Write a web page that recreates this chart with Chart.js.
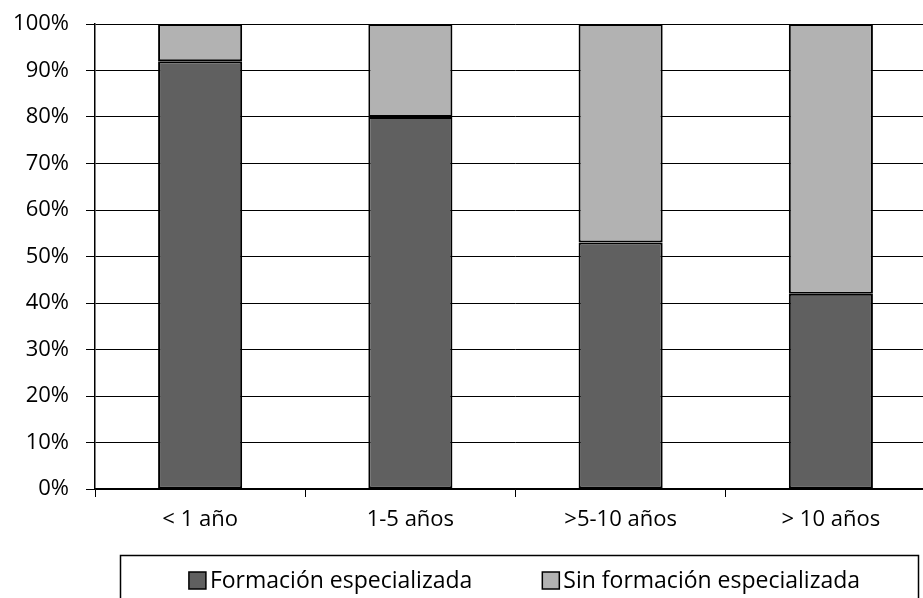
<!DOCTYPE html>
<html lang="es">
<head>
  <meta charset="UTF-8" />
  <title>Formación especializada por antigüedad</title>
  <style>
    html, body {
      margin: 0;
      padding: 0;
      background: #fff;
      overflow: hidden;
    }
    .wrap {
      width: 936px;
      height: 598px;
    }
  </style>
</head>
<body>
  <div class="wrap">
    <canvas id="grafica" width="936" height="598"></canvas>
  </div>

  <script src="https://cdn.jsdelivr.net/npm/chart.js"></script>
  <script>
    const categorias = ['< 1 año', '1-5 años', '>5-10 años', '> 10 años'];
    const conFormacion = [92, 80, 53, 42];
    const sinFormacion = [8, 20, 47, 58];
    const series = ['Formación especializada', 'Sin formación especializada'];

    const FUENTE = '"Open Sans", Lato, sans-serif';
    const OSCURO = '#606060';
    const CLARO = '#b2b2b2';

    // leyenda con marco, como en el original
    const leyendaMarco = {
      id: 'leyendaMarco',
      afterDraw(chart) {
        const ctx = chart.ctx;
        ctx.save();
        ctx.strokeStyle = '#000';
        ctx.lineWidth = 1.5;
        ctx.strokeRect(120.5, 555.5, 798, 60);

        ctx.font = '23px ' + FUENTE;
        ctx.textBaseline = 'alphabetic';
        const caja = 17, sep = 4, hueco = 70;
        const anchos = series.map(s => ctx.measureText(s).width);
        const total = anchos.reduce((a, w) => a + caja + sep + w, 0) + hueco;
        let x = 524.5 - total / 2;
        series.forEach((s, i) => {
          const ds = chart.data.datasets[i];
          ctx.fillStyle = ds.backgroundColor;
          ctx.fillRect(x, 572, caja, caja);
          ctx.lineWidth = 1.5;
          ctx.strokeStyle = '#000';
          ctx.strokeRect(x, 572, caja, caja);
          ctx.fillStyle = '#000';
          ctx.fillText(s, x + caja + sep, 588);
          x += caja + sep + anchos[i] + hueco;
        });
        ctx.restore();
      }
    };

    new Chart(document.getElementById('grafica'), {
      type: 'bar',
      data: {
        labels: categorias,
        datasets: [
          {
            label: series[0],
            data: conFormacion,
            backgroundColor: OSCURO,
            borderColor: '#000',
            borderWidth: 2,
            borderSkipped: false,
            barPercentage: 0.4,
            categoryPercentage: 1
          },
          {
            label: series[1],
            data: sinFormacion,
            backgroundColor: CLARO,
            borderColor: '#000',
            borderWidth: 2,
            borderSkipped: false,
            barPercentage: 0.4,
            categoryPercentage: 1
          }
        ]
      },
      options: {
        responsive: false,
        animation: false,
        layout: { padding: { top: 24, right: 0, bottom: 44, left: 0 } },
        scales: {
          x: {
            stacked: true,
            afterFit: s => { s.height = 65; },
            grid: {
              offset: true,
              drawOnChartArea: false,
              color: '#000',
              tickLength: 8
            },
            border: { color: '#000', width: 1.5 },
            ticks: {
              color: '#000',
              padding: 10,
              font: { family: FUENTE, size: 22 }
            }
          },
          y: {
            stacked: true,
            min: 0,
            max: 100,
            afterFit: s => { s.width = 95; s.paddingTop = 0; s.paddingBottom = 0; },
            grid: { color: '#000', lineWidth: 1, tickLength: 9 },
            border: { color: '#000', width: 1.5 },
            ticks: {
              stepSize: 10,
              color: '#000',
              padding: 17,
              font: { family: FUENTE, size: 22 },
              callback: v => v + '%'
            }
          }
        },
        plugins: {
          legend: { display: false },
          tooltip: { enabled: false }
        }
      },
      plugins: [leyendaMarco]
    });
  </script>
</body>
</html>
